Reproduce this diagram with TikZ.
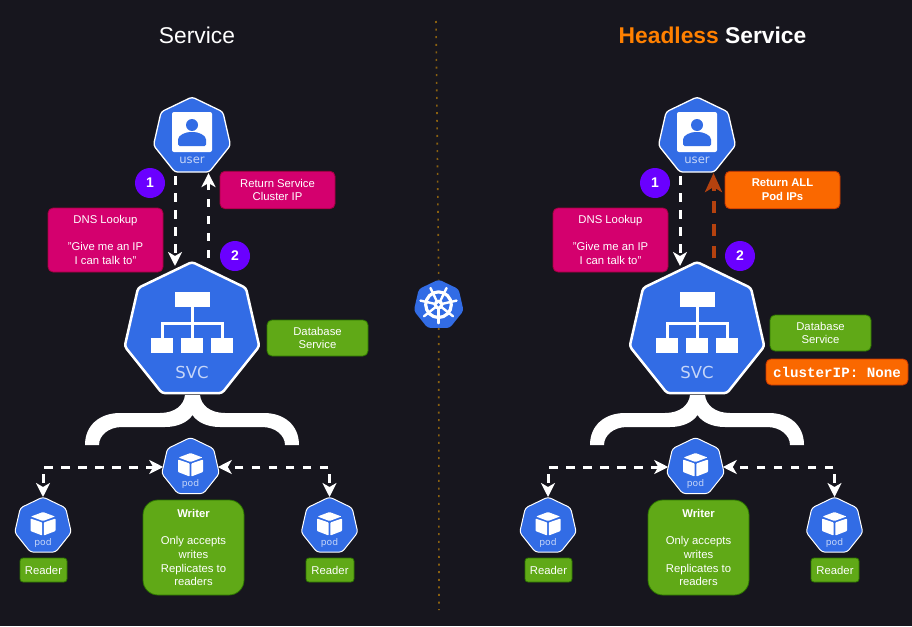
\documentclass[tikz,border=0pt]{standalone}
\usepackage{fontspec}
\setmainfont{Liberation Sans}
\setmonofont{Liberation Mono}
\newfontfamily\kubefont{DejaVu Sans}
\usetikzlibrary{shapes.geometric}
\usetikzlibrary{arrows.meta}
\definecolor{bgdark}{HTML}{17161E}
\definecolor{kubeblue}{HTML}{326CE5}
\definecolor{kubetext}{HTML}{C6D6F8}
\definecolor{pinkfill}{HTML}{D4006E}
\definecolor{pinkline}{HTML}{A50040}
\definecolor{greenfill}{HTML}{60A917}
\definecolor{greenline}{HTML}{2D7600}
\definecolor{orangefill}{HTML}{FA6800}
\definecolor{orangeline}{HTML}{C73500}
\definecolor{purplefill}{HTML}{6A00FF}
\definecolor{headless}{HTML}{FF8000}
\definecolor{midline}{HTML}{8A6010}
\definecolor{backarrow}{HTML}{B5420F}
\tikzset{
    >={Stealth[length=14pt,width=14pt,inset=4pt]},
    kube/.style={regular polygon, regular polygon sides=7, fill=kubeblue, draw=white, inner sep=0pt, outer sep=0pt, rounded corners=3pt},
    kubelabel/.style={text=kubetext, inner sep=0pt},
    flow/.style={draw=white, line width=3pt, dash pattern=on 8.5pt off 8.5pt},
    labelbox/.style={rounded corners=5pt, line width=0.8pt, text=white, align=center, inner sep=0pt,
        font=\fontsize{11.3}{13.7}\selectfont},
    pinkbox/.style={labelbox, fill=pinkfill, draw=pinkline},
    greenbox/.style={labelbox, fill=greenfill, draw=greenline},
    orangebox/.style={labelbox, fill=orangefill, draw=orangeline},
    stepdot/.style={circle, fill=purplefill, minimum size=30pt, inner sep=0pt, text=white,
        font=\fontsize{14}{14}\selectfont\bfseries},
    title/.style={text=white, inner sep=0pt, font=\fontsize{22.8}{26}\selectfont},
    podcube/.pic={
        \fill[white, rounded corners=0.8pt] (0,-14) -- (12,-9.5) -- (0,-5) -- (-12,-9.5) -- cycle;
        \fill[white, rounded corners=0.8pt] (-12.5,-7.5) -- (-0.8,-3.5) -- (-0.8,9.5) -- (-12.5,5) -- cycle;
        \fill[white, rounded corners=0.8pt] (12.5,-7.5) -- (0.8,-3.5) -- (0.8,9.5) -- (12.5,5) -- cycle;
    }
}
\begin{document}
\begin{tikzpicture}[x=1pt,y=-1pt]
    \fill[bgdark] (0,0) rectangle (912,626);
    \useasboundingbox (0,0) rectangle (912,626);

    % dotted line down the middle
    \coordinate (linetop) at (436,21);
    \coordinate (linebot) at (439,610);
    \node[kube, draw=none, minimum size=51pt] (wheel) at (438.7,305) {};
    \draw[midline, line width=1.6pt, dash pattern=on 2pt off 5.6pt] (linetop) -- (wheel.north);
    \draw[midline, line width=1.6pt, dash pattern=on 2pt off 5.6pt] (wheel.south) -- (linebot);
    \draw[white, line width=3.2pt] (438.5,304.7) circle (12.8);
    \foreach \a in {90,141.43,...,400}
        \draw[white, line width=2.4pt, line cap=round] (438.5,304.7) -- ++(\a:18.5);
    \fill[white] (438.5,304.7) circle (5);
    \fill[kubeblue] (438.5,304.7) circle (1.6);

    % both panels are the same apart from the labels
    \foreach \side/\dx in {l/0,r/505}{
        \begin{scope}[xshift=\dx pt]
            \node[kube, line width=1.3pt, minimum size=79pt] (user\side) at (192,136.5) {};
            \node[kube, line width=2.5pt, minimum size=138pt] (svc\side) at (192,331) {};
            \node[kube, line width=1pt, minimum size=59pt] (pod\side) at (190.5,467) {};
            \node[kube, line width=1pt, minimum size=58pt] (podleft\side) at (43,526) {};
            \node[kube, line width=1pt, minimum size=58pt] (podright\side) at (329.5,526) {};

            % user icon
            \fill[white, rounded corners=2pt] (172,112) rectangle (212,152);
            \fill[kubeblue] (192,125) circle (6);
            \fill[kubeblue, rounded corners=1.5pt] (178,146) -- (178,141) .. controls (178,135) and (186,132) .. (192,132)
                .. controls (198,132) and (206,135) .. (206,141) -- (206,146) -- cycle;
            \node[kubelabel, font=\kubefont\fontsize{11.6}{12}\selectfont] (userlabel\side) at (192,160) {user};

            % svc icon
            \fill[white] (174.5,292) rectangle (209.5,307);
            \foreach \bx in {151,181,211}
                \fill[white] (\bx,338) rectangle ++(22,15);
            \draw[white, line width=3pt] (192,307) -- (192,338);
            \draw[white, line width=3pt] (162,338) -- (162,323) -- (222,323) -- (222,338);
            \node[kubelabel, font=\kubefont\fontsize{16.5}{18}\selectfont] (svclabel\side) at (192,372) {SVC};

            % brace under the service
            \fill[white] (85,445) .. controls (85,425) and (100,413) .. (120,413) -- (160,413)
                .. controls (175,413) and (184,405) .. (185,395) -- (200,395)
                .. controls (201,405) and (210,413) .. (225,413) -- (264,413)
                .. controls (284,413) and (299,425) .. (299,445) -- (285,445)
                .. controls (285,435) and (275,427) .. (262,427) -- (220,427)
                .. controls (207,427) and (197,422) .. (192.5,415)
                .. controls (188,422) and (178,427) .. (165,427) -- (122,427)
                .. controls (109,427) and (99,435) .. (99,445) -- cycle;

            % pods
            \pic at (pod\side) {podcube};
            \pic at (podleft\side) {podcube};
            \pic at (podright\side) {podcube};
            \node[kubelabel, font=\kubefont\fontsize{9.2}{10}\selectfont] (podlabel\side) at (190.5,484) {pod};
            \node[kubelabel, font=\kubefont\fontsize{9.2}{10}\selectfont] (podleftlabel\side) at (43,543) {pod};
            \node[kubelabel, font=\kubefont\fontsize{9.2}{10}\selectfont] (podrightlabel\side) at (329.5,543) {pod};

            \draw[flow, dash phase=12pt, <->] (podleft\side.north) |- (pod\side.west);
            \draw[flow, dash phase=12pt, <->] (podright\side.north) |- (pod\side.east);

            % labels
            \node[pinkbox, minimum width=115pt, minimum height=64pt] (dns\side) at (105.5,240) {DNS Lookup\\ \\"Give me an IP\\I can talk to"};
            \node[greenbox, rounded corners=3pt, minimum width=47pt, minimum height=24pt] (readerleft\side) at (43.5,570) {Reader};
            \node[greenbox, rounded corners=3pt, minimum width=48pt, minimum height=24pt] (readerright\side) at (330,570) {Reader};
            \node[greenbox, rounded corners=15pt, minimum width=101pt, minimum height=95pt] (writer\side) at (193.5,547.5) {\textbf{Writer}\\ \\Only accepts\\writes\\Replicates to\\readers};

            \node[stepdot] (one\side) at (150,183) {1};
            \node[stepdot] (two\side) at (235,256) {2};

            \draw[flow, ->] ([xshift=-17pt,yshift=-4pt]user\side.south) -- ([xshift=-17pt,yshift=-4pt]svc\side.north);
        \end{scope}
    }

    % only in the left panel
    \node[title] (titlel) at (197,35) {Service};
    \node[pinkbox, minimum width=115pt, minimum height=37.5pt] (returnl) at (277.5,190) {Return Service\\Cluster IP};
    \node[greenbox, minimum width=101pt, minimum height=36pt] (dbl) at (317.5,338) {Database\\Service};
    \draw[flow, ->] ([xshift=16.5pt,yshift=4pt]svcl.north) -- ([xshift=16.5pt,yshift=-1pt]userl.south);

    % only in the right panel
    \node[title, font=\fontsize{22.8}{26}\selectfont\bfseries] (titler) at (712.5,35) {\textcolor{headless}{Headless} Service};
    \node[orangebox, font=\fontsize{11.3}{13.7}\selectfont\bfseries, minimum width=115pt, minimum height=37.5pt] (returnr) at (782.5,190) {Return ALL\\Pod IPs};
    \node[greenbox, minimum width=101pt, minimum height=36pt] (dbr) at (820.5,333) {Database\\Service};
    \node[orangebox, minimum width=142pt, minimum height=26pt, font=\ttfamily\bfseries\fontsize{14.2}{16}\selectfont] (clusterip) at (837,372) {clusterIP: None};
    \draw[backarrow, line width=4pt, dash pattern=on 12pt off 10.5pt,
        -{Stealth[length=19pt,width=17pt,inset=5pt]}] ([xshift=16.5pt,yshift=4pt]svcr.north) -- ([xshift=16.5pt,yshift=-1pt]userr.south);
\end{tikzpicture}
\end{document}
